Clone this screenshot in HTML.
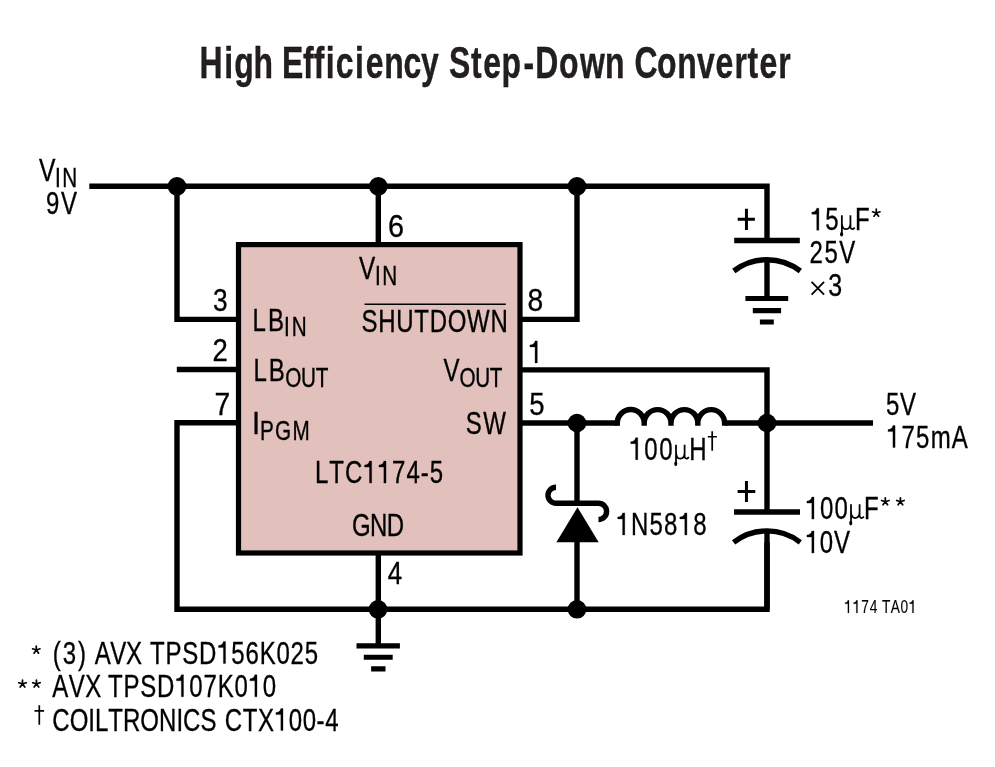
<!DOCTYPE html>
<html><head><meta charset="utf-8"><style>
html,body{margin:0;padding:0;background:#fff;}
body{width:995px;height:767px;overflow:hidden;}
svg{display:block;will-change:transform;}
text{font-family:"Liberation Sans",sans-serif;font-kerning:none;stroke:#000;stroke-width:0.35px;}
.one{fill:#000;stroke:#000;stroke-width:0.011px;}
</style></head><body>
<svg width="995" height="767" viewBox="0 0 995 767">
<rect x="238.5" y="244.6" width="281.5" height="308.4" fill="#e2c0bb" stroke="#000" stroke-width="5.2"/>
<g fill="none" stroke="#000" stroke-linecap="butt" stroke-linejoin="miter">
<path d="M89.3 186.3 H767 V240.5" stroke-width="5.4"/>
<path d="M177 186.3 V319.4 H238.5" stroke-width="5.4"/>
<path d="M378.3 186.3 V244.6" stroke-width="5.4"/>
<path d="M577 186.3 V319.4 H520" stroke-width="5.4"/>
<path d="M176.8 369.5 H238.5" stroke-width="5.4"/>
<path d="M238.5 422.8 H177 V609.3 H767 V542.3" stroke-width="5.4"/>
<path d="M520 369.9 H767 V512" stroke-width="5.4"/>
<path d="M520 423 H617.3" stroke-width="5.4"/>
<path d="M724.7 423 H873" stroke-width="5.4"/>
<path d="M378.3 553 V645.9" stroke-width="5.4"/>
<path d="M577 423 V503.3" stroke-width="5.4"/>
<path d="M577 540 V609.3" stroke-width="5.4"/>
<path d="M767 259.9 V298.5" stroke-width="5.4"/>
<path d="M767 530.9 V609.3" stroke-width="5.4"/>
<path d="M617.3 425.7 V423 A13.4 13.4 0 0 1 644.2 423 V425.7 M644.2 423 A13.4 13.4 0 0 1 671.0 423 V425.7 M671.0 423 A13.4 13.4 0 0 1 697.8 423 V425.7 M697.8 423 A13.4 13.4 0 0 1 724.6 423 V425.7 M724.6 423 " stroke-width="5.4"/>
<path d="M734.2 240.5 H799.8" stroke-width="5.4"/>
<path d="M734 512 H800" stroke-width="5.4"/>
<path d="M733.8 271 A54.5 54.5 0 0 1 800.3 271" stroke-width="5.4"/>
<path d="M733.6 542.3 A54.5 54.5 0 0 1 800.3 542.3" stroke-width="5.4"/>
<path d="M737.7 219.35 H754.9 M746.45 208.8 V229.9" stroke-width="3.0"/>
<path d="M737.6 491.6 H755.3 M746.45 481.1 V502.1" stroke-width="3.0"/>
<path d="M745.4 298.5 H788.2 M752.8 310.6 H781.1 M759.9 322 H773.8" stroke-width="5.2"/>
<path d="M356.5 645.9 H399.9 M363.8 657.25 H392.7 M371.1 668.85 H385.5" stroke-width="5.2"/>
<path d="M556 487.2 A8.05 8.05 0 0 0 556 503.3 H598.5 A8.05 8.05 0 0 1 598.5 519.5" stroke-width="5.4"/>
<path d="M364.6 304.2 H505.8" stroke-width="1.6"/>
<path d="M876.30 213.00 L876.30 209.10 M876.30 213.00 L880.01 211.79 M876.30 213.00 L878.59 216.16 M876.30 213.00 L874.01 216.16 M876.30 213.00 L872.59 211.79 " stroke-width="1.7" stroke-linecap="round"/>
<path d="M885.30 501.70 L885.30 497.80 M885.30 501.70 L889.01 500.49 M885.30 501.70 L887.59 504.86 M885.30 501.70 L883.01 504.86 M885.30 501.70 L881.59 500.49 " stroke-width="1.7" stroke-linecap="round"/>
<path d="M900.40 501.70 L900.40 497.80 M900.40 501.70 L904.11 500.49 M900.40 501.70 L902.69 504.86 M900.40 501.70 L898.11 504.86 M900.40 501.70 L896.69 500.49 " stroke-width="1.7" stroke-linecap="round"/>
<path d="M36.30 650.00 L36.30 646.10 M36.30 650.00 L40.01 648.79 M36.30 650.00 L38.59 653.16 M36.30 650.00 L34.01 653.16 M36.30 650.00 L32.59 648.79 " stroke-width="1.7" stroke-linecap="round"/>
<path d="M22.50 683.90 L22.50 680.00 M22.50 683.90 L26.21 682.69 M22.50 683.90 L24.79 687.06 M22.50 683.90 L20.21 687.06 M22.50 683.90 L18.79 682.69 " stroke-width="1.7" stroke-linecap="round"/>
<path d="M36.45 683.90 L36.45 680.00 M36.45 683.90 L40.16 682.69 M36.45 683.90 L38.74 687.06 M36.45 683.90 L34.16 687.06 M36.45 683.90 L32.74 682.69 " stroke-width="1.7" stroke-linecap="round"/>
<path d="M712.2 431.2 V450.8 M707.8 436.75 H716.9" stroke-width="1.7"/>
<path d="M39.3 705.3 V724.8 M34.5 710.85 H44.1" stroke-width="1.7"/>
<path d="M811.6 281.9 L824.1 294.7 M824.1 281.9 L811.6 294.7" stroke-width="1.8"/>
</g>
<polygon points="577.5,507.3 556.4,542.2 598.7,542.2" fill="#000"/>
<g fill="#000"><circle cx="177" cy="186.3" r="9.3"/><circle cx="378.3" cy="186.3" r="9.3"/><circle cx="577" cy="186.3" r="9.3"/><circle cx="577" cy="423" r="9.3"/><circle cx="767" cy="423" r="9.3"/><circle cx="378" cy="609.3" r="9.3"/><circle cx="577" cy="609.3" r="9.3"/></g>
<g font-size="44.35" font-weight="bold" fill="#231f20" style="stroke:#231f20;stroke-width:0.6px"><text transform="translate(199.61 77.5) scale(0.72 1)">H</text><text transform="translate(224.32 77.5) scale(0.72 1)">i</text><text transform="translate(234.21 77.5) scale(0.72 1)">g</text><text transform="translate(253.40 77.5) scale(0.72 1)">h</text><text transform="translate(282.00 77.5) scale(0.72 1)">E</text><text transform="translate(302.92 77.5) scale(0.72 1)">f</text><text transform="translate(313.77 77.5) scale(0.72 1)">f</text><text transform="translate(325.82 77.5) scale(0.72 1)">i</text><text transform="translate(335.69 77.5) scale(0.72 1)">c</text><text transform="translate(355.07 77.5) scale(0.72 1)">i</text><text transform="translate(365.87 77.5) scale(0.72 1)">e</text><text transform="translate(384.33 77.5) scale(0.72 1)">n</text><text transform="translate(403.39 77.5) scale(0.72 1)">c</text><text transform="translate(421.05 77.5) scale(0.72 1)">y</text><text transform="translate(449.00 77.5) scale(0.72 1)">S</text><text transform="translate(471.09 77.5) scale(0.72 1)">t</text><text transform="translate(483.37 77.5) scale(0.72 1)">e</text><text transform="translate(501.41 77.5) scale(0.72 1)">p</text><text transform="translate(523.44 77.5) scale(0.72 1)">-</text><text transform="translate(535.22 77.5) scale(0.72 1)">D</text><text transform="translate(559.07 77.5) scale(0.72 1)">o</text><text transform="translate(579.94 77.5) scale(0.72 1)">w</text><text transform="translate(605.03 77.5) scale(0.72 1)">n</text><text transform="translate(634.51 77.5) scale(0.72 1)">C</text><text transform="translate(656.97 77.5) scale(0.72 1)">o</text><text transform="translate(677.13 77.5) scale(0.72 1)">n</text><text transform="translate(697.00 77.5) scale(0.72 1)">v</text><text transform="translate(715.47 77.5) scale(0.72 1)">e</text><text transform="translate(734.62 77.5) scale(0.72 1)">r</text><text transform="translate(747.49 77.5) scale(0.72 1)">t</text><text transform="translate(759.52 77.5) scale(0.72 1)">e</text><text transform="translate(778.37 77.5) scale(0.72 1)">r</text></g>
<text transform="translate(38.88 180.90) scale(0.7700 1)" font-size="32.0" fill="#000">V</text>
<text transform="translate(55.09 186.80) scale(0.7500 1)" font-size="27.6" letter-spacing="1.763" fill="#000">IN</text>
<text transform="translate(45.96 214.00) scale(0.7500 1)" font-size="32.0" letter-spacing="2.293" fill="#000">9V</text>
<text transform="translate(387.96 237.10) scale(0.8986 1)" font-size="32.0" fill="#000">6</text>
<text transform="translate(358.98 278.90) scale(0.7605 1)" font-size="32.0" fill="#000">V</text>
<text transform="translate(375.09 285.00) scale(0.7500 1)" font-size="27.6" letter-spacing="1.897" fill="#000">IN</text>
<text transform="translate(212.91 311.00) scale(0.8224 1)" font-size="32.0" fill="#000">3</text>
<text transform="translate(252.62 330.90) scale(0.7500 1)" font-size="32.0" letter-spacing="2.800" fill="#000">LB</text>
<text transform="translate(283.89 336.40) scale(0.7500 1)" font-size="27.6" letter-spacing="2.830" fill="#000">IN</text>
<text transform="translate(361.52 331.80) scale(0.7500 1)" font-size="32.0" letter-spacing="0.945" fill="#000">SHUTDOWN</text>
<text transform="translate(527.60 310.90) scale(0.8843 1)" font-size="32.0" fill="#000">8</text>
<text transform="translate(212.53 361.30) scale(0.8585 1)" font-size="32.0" fill="#000">2</text>
<text transform="translate(253.42 380.90) scale(0.7500 1)" font-size="32.0" letter-spacing="2.800" fill="#000">LB</text>
<text transform="translate(285.22 386.90) scale(0.7500 1)" font-size="27.6" letter-spacing="-0.285" fill="#000">OUT</text>
<path transform="translate(528.70 362.90) scale(0.7786 1) scale(32.0) translate(0.0000 0)" d="M0.345 -0.688 V0 H0.255 V-0.50 H0.05 V-0.563 C0.15 -0.563 0.235 -0.60 0.255 -0.688 Z" class="one"/>
<text transform="translate(443.38 380.50) scale(0.7510 1)" font-size="32.0" fill="#000">V</text>
<text transform="translate(459.62 387.20) scale(0.7500 1)" font-size="27.6" letter-spacing="-0.552" fill="#000">OUT</text>
<text transform="translate(214.61 415.40) scale(0.8840 1)" font-size="32.0" fill="#000">7</text>
<text transform="translate(251.90 433.60) scale(0.9122 1)" font-size="32.0" fill="#000">I</text>
<text transform="translate(260.09 439.50) scale(0.7500 1)" font-size="27.6" letter-spacing="1.647" fill="#000">PGM</text>
<text transform="translate(529.30 415.40) scale(0.8618 1)" font-size="32.0" fill="#000">5</text>
<text transform="translate(465.72 433.50) scale(0.7500 1)" font-size="32.0" letter-spacing="2.000" fill="#000">SW</text>
<text transform="translate(314.92 483.10) scale(0.7500 1)" font-size="32.0" letter-spacing="1.380" fill="#000">LTC  74-5</text><path transform="translate(314.92 483.10) scale(0.7500 1) scale(32.0) translate(2.0186 0)" d="M0.345 -0.688 V0 H0.255 V-0.50 H0.05 V-0.563 C0.15 -0.563 0.235 -0.60 0.255 -0.688 Z" class="one"/><path transform="translate(314.92 483.10) scale(0.7500 1) scale(32.0) translate(2.6179 0)" d="M0.345 -0.688 V0 H0.255 V-0.50 H0.05 V-0.563 C0.15 -0.563 0.235 -0.60 0.255 -0.688 Z" class="one"/>
<text transform="translate(351.90 536.00) scale(0.7500 1)" font-size="32.0" letter-spacing="-0.800" fill="#000">GND</text>
<text transform="translate(387.82 584.20) scale(0.8106 1)" font-size="32.0" fill="#000">4</text>
<text transform="translate(810.60 230.20) scale(0.7500 1)" font-size="32.0" letter-spacing="1.698" fill="#000"> 5<tspan style="fill:none;stroke:none">µ</tspan>F</text><path transform="translate(810.60 230.20) scale(0.7500 1) scale(32.0) translate(0.0000 0)" d="M0.345 -0.688 V0 H0.255 V-0.50 H0.05 V-0.563 C0.15 -0.563 0.235 -0.60 0.255 -0.688 Z" class="one"/><path d="M841.84 215.30 V233.70 M850.44 215.30 V227.20 M841.84 222.20 C841.84 228.00 843.74 229.10 845.94 229.10 C848.44 229.10 850.44 227.60 850.44 223.20 M850.44 226.70 C850.44 228.60 851.74 229.30 852.84 229.10 L854.84 227.80" fill="none" stroke="#000" stroke-width="1.75"/><ellipse cx="841.59" cy="234.20" rx="1.55" ry="2.3" fill="#000"/>
<text transform="translate(809.60 263.10) scale(0.7500 1)" font-size="32.0" letter-spacing="2.000" fill="#000">25V</text>
<text transform="translate(828.16 296.00) scale(0.7829 1)" font-size="32.0" fill="#000">3</text>
<text transform="translate(886.04 415.00) scale(0.7500 1)" font-size="32.0" letter-spacing="0.853" fill="#000">5V</text>
<text transform="translate(886.80 447.60) scale(0.7500 1)" font-size="32.0" letter-spacing="1.693" fill="#000"> 75mA</text><path transform="translate(886.80 447.60) scale(0.7500 1) scale(32.0) translate(0.0000 0)" d="M0.345 -0.688 V0 H0.255 V-0.50 H0.05 V-0.563 C0.15 -0.563 0.235 -0.60 0.255 -0.688 Z" class="one"/>
<text transform="translate(629.50 459.70) scale(0.7500 1)" font-size="32.0" letter-spacing="1.987" fill="#000"> 00<tspan style="fill:none;stroke:none">µ</tspan>H</text><path transform="translate(629.50 459.70) scale(0.7500 1) scale(32.0) translate(0.0000 0)" d="M0.345 -0.688 V0 H0.255 V-0.50 H0.05 V-0.563 C0.15 -0.563 0.235 -0.60 0.255 -0.688 Z" class="one"/><path d="M676.01 444.80 V463.20 M684.61 444.80 V456.70 M676.01 451.70 C676.01 457.50 677.91 458.60 680.11 458.60 C682.61 458.60 684.61 457.10 684.61 452.70 M684.61 456.20 C684.61 458.10 685.91 458.80 687.01 458.60 L689.01 457.30" fill="none" stroke="#000" stroke-width="1.75"/><ellipse cx="675.76" cy="463.70" rx="1.55" ry="2.3" fill="#000"/>
<text transform="translate(616.50 534.90) scale(0.7500 1)" font-size="32.0" letter-spacing="1.589" fill="#000"> N58 8</text><path transform="translate(616.50 534.90) scale(0.7500 1) scale(32.0) translate(0.0000 0)" d="M0.345 -0.688 V0 H0.255 V-0.50 H0.05 V-0.563 C0.15 -0.563 0.235 -0.60 0.255 -0.688 Z" class="one"/><path transform="translate(616.50 534.90) scale(0.7500 1) scale(32.0) translate(2.5894 0)" d="M0.345 -0.688 V0 H0.255 V-0.50 H0.05 V-0.563 C0.15 -0.563 0.235 -0.60 0.255 -0.688 Z" class="one"/>
<text transform="translate(805.70 519.10) scale(0.7500 1)" font-size="32.0" letter-spacing="1.447" fill="#000"> 00<tspan style="fill:none;stroke:none">µ</tspan>F</text><path transform="translate(805.70 519.10) scale(0.7500 1) scale(32.0) translate(0.0000 0)" d="M0.345 -0.688 V0 H0.255 V-0.50 H0.05 V-0.563 C0.15 -0.563 0.235 -0.60 0.255 -0.688 Z" class="one"/><path d="M851.00 504.20 V522.60 M859.60 504.20 V516.10 M851.00 511.10 C851.00 516.90 852.90 518.00 855.10 518.00 C857.60 518.00 859.60 516.50 859.60 512.10 M859.60 515.60 C859.60 517.50 860.90 518.20 862.00 518.00 L864.00 516.70" fill="none" stroke="#000" stroke-width="1.75"/><ellipse cx="850.75" cy="523.10" rx="1.55" ry="2.3" fill="#000"/>
<text transform="translate(805.70 553.00) scale(0.7500 1)" font-size="32.0" letter-spacing="1.000" fill="#000"> 0V</text><path transform="translate(805.70 553.00) scale(0.7500 1) scale(32.0) translate(0.0000 0)" d="M0.345 -0.688 V0 H0.255 V-0.50 H0.05 V-0.563 C0.15 -0.563 0.235 -0.60 0.255 -0.688 Z" class="one"/>
<text transform="translate(844.31 612.90) scale(0.7500 1)" font-size="18.3" letter-spacing="1.138" fill="#000" style="stroke-width:0.15px">  74</text><path transform="translate(844.31 612.90) scale(0.7500 1) scale(18.3) translate(0.0000 0)" d="M0.345 -0.688 V0 H0.255 V-0.50 H0.05 V-0.563 C0.15 -0.563 0.235 -0.60 0.255 -0.688 Z" class="one"/><path transform="translate(844.31 612.90) scale(0.7500 1) scale(18.3) translate(0.6183 0)" d="M0.345 -0.688 V0 H0.255 V-0.50 H0.05 V-0.563 C0.15 -0.563 0.235 -0.60 0.255 -0.688 Z" class="one"/>
<text transform="translate(881.89 612.90) scale(0.7500 1)" font-size="18.3" letter-spacing="0.801" fill="#000" style="stroke-width:0.15px">TA0 </text><path transform="translate(881.89 612.90) scale(0.7500 1) scale(18.3) translate(1.9653 0)" d="M0.345 -0.688 V0 H0.255 V-0.50 H0.05 V-0.563 C0.15 -0.563 0.235 -0.60 0.255 -0.688 Z" class="one"/>
<text transform="translate(52.70 663.60) scale(0.7500 1)" font-size="32.0" letter-spacing="2.640" fill="#000">(3)</text>
<text transform="translate(94.64 663.60) scale(0.7500 1)" font-size="32.0" letter-spacing="-0.440" fill="#000">AVX</text>
<text transform="translate(150.06 663.60) scale(0.7500 1)" font-size="32.0" letter-spacing="1.069" fill="#000">TPSD 56K025</text><path transform="translate(150.06 663.60) scale(0.7500 1) scale(32.0) translate(2.8007 0)" d="M0.345 -0.688 V0 H0.255 V-0.50 H0.05 V-0.563 C0.15 -0.563 0.235 -0.60 0.255 -0.688 Z" class="one"/>
<text transform="translate(52.34 696.80) scale(0.7500 1)" font-size="32.0" letter-spacing="0.560" fill="#000">AVX</text>
<text transform="translate(107.96 696.80) scale(0.7500 1)" font-size="32.0" letter-spacing="1.088" fill="#000">TPSD 07K0 0</text><path transform="translate(107.96 696.80) scale(0.7500 1) scale(32.0) translate(2.8030 0)" d="M0.345 -0.688 V0 H0.255 V-0.50 H0.05 V-0.563 C0.15 -0.563 0.235 -0.60 0.255 -0.688 Z" class="one"/><path transform="translate(107.96 696.80) scale(0.7500 1) scale(32.0) translate(5.8647 0)" d="M0.345 -0.688 V0 H0.255 V-0.50 H0.05 V-0.563 C0.15 -0.563 0.235 -0.60 0.255 -0.688 Z" class="one"/>
<text transform="translate(52.30 730.60) scale(0.7500 1)" font-size="32.0" letter-spacing="0.027" fill="#000">COILTRONICS</text>
<text transform="translate(224.80 730.60) scale(0.7500 1)" font-size="32.0" letter-spacing="0.853" fill="#000">CTX 00-4</text><path transform="translate(224.80 730.60) scale(0.7500 1) scale(32.0) translate(2.0800 0)" d="M0.345 -0.688 V0 H0.255 V-0.50 H0.05 V-0.563 C0.15 -0.563 0.235 -0.60 0.255 -0.688 Z" class="one"/>
</svg>
</body></html>
